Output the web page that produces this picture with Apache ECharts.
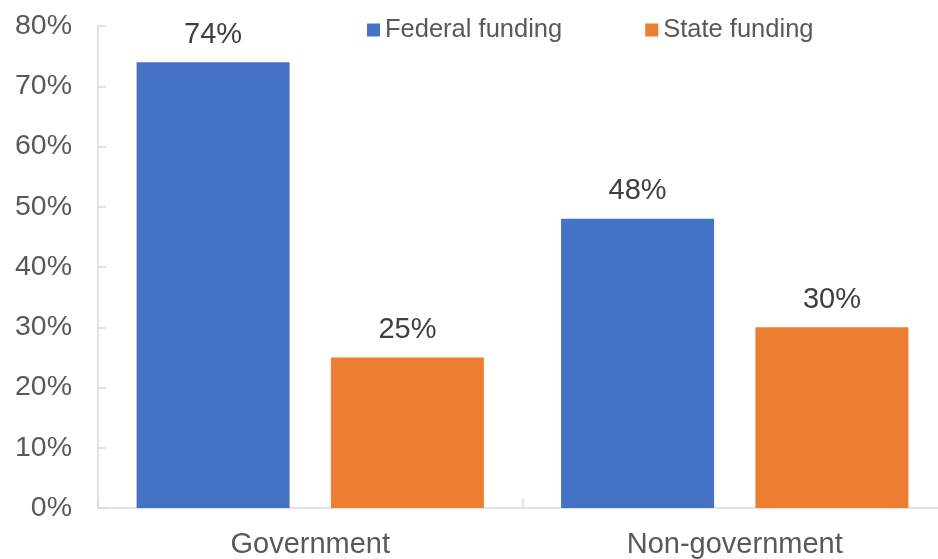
<!DOCTYPE html>
<html>
<head>
<meta charset="utf-8">
<script src="https://cdn.jsdelivr.net/npm/echarts@6/dist/echarts.min.js"></script>
<style>
  html, body { margin: 0; padding: 0; background: #ffffff; overflow: hidden; }
  /* plot area runs a few pixels past the right edge of the window */
  #chart { width: 947px; height: 559px; }
</style>
</head>
<body>
<div id="chart"></div>
<script>
// Funding shares by organisation type
const categories = ['Government', 'Non-government'];
const seriesNames = ['Federal funding', 'State funding'];
const federalFunding = [74, 48];
const stateFunding = [25, 30];
const yTicks = { min: 0, max: 80, interval: 10 };

const FONT = '"Liberation Sans", Arial, sans-serif';
const AXIS_GREY = '#D9D9D9';

const chart = echarts.init(document.getElementById('chart'), null, { renderer: 'canvas' });

const labelStyle = {
  show: true,
  position: 'top',
  distance: 13,
  fontFamily: FONT,
  fontSize: 29,
  color: '#404040',
  formatter: p => p.value + '%'
};

chart.setOption({
  animation: false,
  backgroundColor: '#ffffff',
  textStyle: { fontFamily: FONT },
  grid: { left: 98, top: 26, right: 0, height: 483, containLabel: false },
  legend: {
    data: seriesNames,
    left: 362,
    top: 12,
    itemWidth: 13,
    itemHeight: 13,
    itemGap: 83,
    icon: 'rect',
    textStyle: { fontFamily: FONT, fontSize: 25.5, color: '#595959' }
  },
  xAxis: {
    type: 'category',
    data: categories,
    boundaryGap: true,
    axisLine: { show: true, lineStyle: { color: AXIS_GREY, width: 1.5 } },
    axisTick: { show: true, inside: true, length: 9, alignWithLabel: false, lineStyle: { color: AXIS_GREY, width: 1.5 } },
    axisLabel: { fontFamily: FONT, fontSize: 29, color: '#595959', margin: 22 },
    splitLine: { show: false }
  },
  yAxis: {
    type: 'value',
    min: yTicks.min,
    max: yTicks.max,
    interval: yTicks.interval,
    axisLine: { show: true, lineStyle: { color: AXIS_GREY, width: 1.5 } },
    axisTick: { show: true, inside: true, length: 8, lineStyle: { color: AXIS_GREY, width: 1.5 } },
    axisLabel: { fontFamily: FONT, fontSize: 28.5, color: '#595959', margin: 26, padding: [5, 0, 0, 0], formatter: '{value}%' },
    splitLine: { show: false }
  },
  series: [
    {
      name: seriesNames[0],
      type: 'bar',
      data: federalFunding,
      barWidth: 153,
      barGap: '27%',
      itemStyle: { color: '#4472C4' },
      label: labelStyle
    },
    {
      name: seriesNames[1],
      type: 'bar',
      data: stateFunding,
      barWidth: 153,
      barGap: '27%',
      itemStyle: { color: '#ED7D31' },
      label: labelStyle
    }
  ]
});
</script>
</body>
</html>
